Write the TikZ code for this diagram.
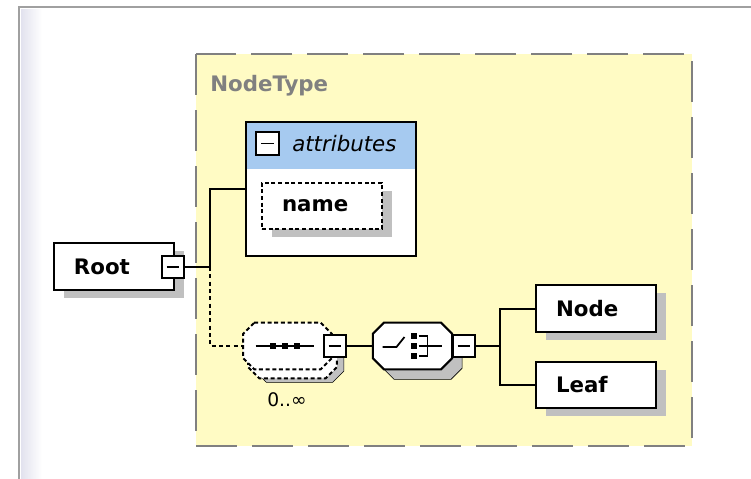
\documentclass[tikz,border=0pt]{standalone}
\usepackage{fontspec}
\setmainfont{DejaVu Sans}
\usetikzlibrary{positioning,calc,shadows}
\definecolor{typeyellow}{RGB}{255,251,196}
\definecolor{hdrblue}{RGB}{166,202,240}
\definecolor{shadowgray}{RGB}{192,192,192}
\definecolor{framegray}{RGB}{160,160,160}
\definecolor{stripgray}{RGB}{226,226,238}
\definecolor{typegray}{RGB}{128,128,128}
\tikzset{
  boxshadow/.style={drop shadow={shadow xshift=7.5pt, shadow yshift=-6pt, fill=shadowgray, opacity=1}},
  elem/.style={draw, line width=1.5pt, fill=white, boxshadow, anchor=west,
    font=\fontsize{16}{18}\selectfont\bfseries, text width=60pt, align=left,
    inner xsep=15pt, inner ysep=0pt, minimum height=35pt},
  optelem/.style={elem, dash pattern=on 3pt off 2pt},
  pm/.style={draw, line width=1.3pt, fill=white, minimum size=17pt, inner sep=0pt,
    path picture={\draw[line width=1.3pt]
      ($(path picture bounding box.west)!0.22!(path picture bounding box.east)$) --
      ($(path picture bounding box.west)!0.78!(path picture bounding box.east)$);}},
  compbox/.style={inner sep=0pt, minimum height=34.5pt},
  comp/.style={line width=1.5pt, fill=white},
  conn/.style={line width=1.5pt},
  optconn/.style={conn, dash pattern=on 3pt off 2.5pt},
  sq/.style={fill=black, minimum size=4.5pt, inner sep=0pt},
}
% octagon round a node: style, node, corner cut, shift
\newcommand\octo[4]{%
  \draw[#1] ($(#2.north west)+(#3,0)+#4$) -- ($(#2.north east)+(-#3,0)+#4$)
    -- ($(#2.north east)+(0,#3)+#4$) -- ($(#2.south east)+(0,-#3)+#4$)
    -- ($(#2.south east)+(-#3,0)+#4$) -- ($(#2.south west)+(#3,0)+#4$)
    -- ($(#2.south west)+(0,-#3)+#4$) -- ($(#2.north west)+(0,#3)+#4$) -- cycle;}
\begin{document}
\begin{tikzpicture}[x=0.75pt,y=-0.75pt]
\useasboundingbox (0,0) rectangle (751,479);
% window frame
\shade[left color=stripgray, right color=white] (21,9) rectangle (42,479);
\draw[framegray, line width=2pt] (19,479) -- (19,7) -- (751,7);
% complex type
\draw[typegray, fill=typeyellow, line width=1.6pt, dash pattern=on 31pt off 11pt]
  (196,54) rectangle (692,446);
\node[anchor=west, text=typegray, font=\fontsize{16}{18}\selectfont\bfseries,
  inner sep=0pt] (typelbl) at (210,86) {NodeType};

% root element
\node[elem] (root) at (53,266.5) {Root};
\node[pm] (rootm) at (173,267) {};
\coordinate (j1) at (210,267);

% attributes
\node[draw, line width=1.5pt, fill=white, anchor=north west, inner sep=0pt,
  minimum width=127.5pt, minimum height=100.5pt,
  path picture={\fill[hdrblue] (path picture bounding box.north west) rectangle
    ($(path picture bounding box.north east)+(0,47)$);}] (attr) at (245,121) {};
\node[pm] (attrm) at (267.5,143.5) {};
\node[anchor=west, inner sep=0pt, font=\fontsize{16}{18}\selectfont\itshape]
  (attrlbl) at (292,144) {attributes};
\node[optelem] (name) at (261,206) {name};

% sequence
\node[compbox, minimum width=66pt] (seq) at (287.5,346) {};
\octo{fill=shadowgray}{seq}{11}{(12,13)}
\octo{comp, dash pattern=on 3pt off 2pt}{seq}{11}{(5,9)}
\octo{comp, dash pattern=on 3pt off 2pt}{seq}{11}{(0,0)}
\draw[line width=1.3pt] ($(seq.center)+(-32,0)$) -- ($(seq.center)+(26,0)$);
\foreach \dx in {-15,-3,9}
  \node[sq] at ($(seq.center)+(\dx,0)$) {};
\node[pm] (seqm) at (335,346) {};
\node[font=\fontsize{14}{16}\selectfont, inner sep=0pt] (occ) at (287,400) {0..∞};

% choice
\node[compbox, minimum width=59pt] (choice) at (412.5,346) {};
\octo{fill=shadowgray}{choice}{11}{(10,10)}
\octo{comp}{choice}{11}{(0,0)}
\draw[line width=1.3pt] ($(choice.center)+(-30,1)$) -- ($(choice.center)+(-16,1)$)
  -- ($(choice.center)+(-8,-9)$);
\foreach \dy in {-10,0,10}
  \node[sq] at ($(choice.center)+(1,\dy)$) {};
\draw[line width=1.3pt] ($(choice.center)+(6,-10)$) -- ($(choice.center)+(15,-10)$)
  -- ($(choice.center)+(15,10)$) -- ($(choice.center)+(6,10)$);
\draw[line width=1.3pt] ($(choice.center)+(6,0)$) -- ($(choice.center)+(29,0)$);
\node[pm] (choicem) at (464,346) {};
\coordinate (j2) at (500,346);

% child elements
\node[elem] (node) at (535,308.5) {Node};
\node[elem] (leaf) at (535,385) {Leaf};

% connectors
\draw[conn] (rootm.east) -- (j1);
\draw[conn] (j1) |- (attr.west);
\draw[optconn] (j1) |- (seq.west);
\draw[conn] (seqm.east) -- (choice.west);
\draw[conn] (choicem.east) -- (j2);
\draw[conn] (j2) |- (node.west);
\draw[conn] (j2) |- (leaf.west);
\end{tikzpicture}
\end{document}
